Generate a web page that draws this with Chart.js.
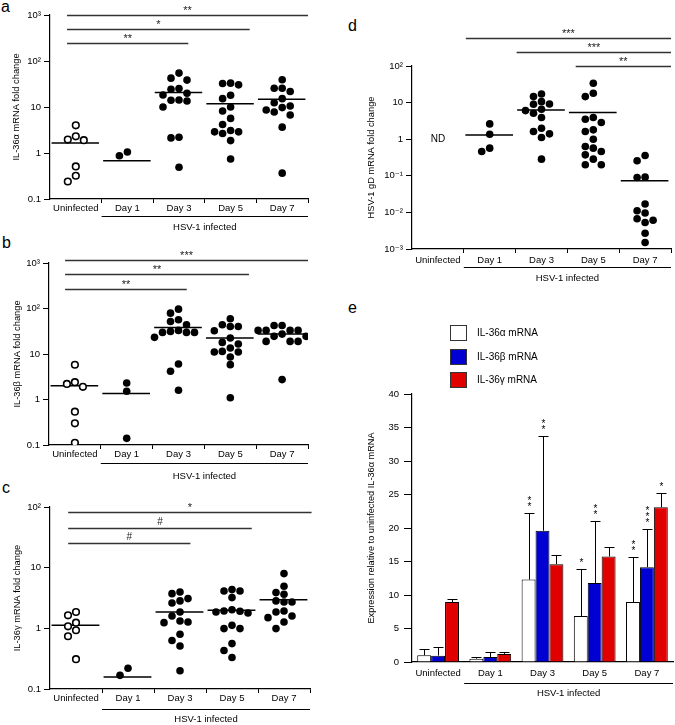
<!DOCTYPE html>
<html><head><meta charset="utf-8">
<script src="https://cdn.jsdelivr.net/npm/chart.js@4.4.1/dist/chart.umd.min.js"></script>
<style>
html,body{margin:0;padding:0;background:#fff;}
body{width:675px;height:725px;position:relative;overflow:hidden;font-family:"Liberation Sans",Arial,sans-serif;}
canvas{position:absolute;}
.lbl{position:absolute;font-size:16px;line-height:1;color:#000;font-family:"Liberation Sans",Arial,sans-serif;}
</style></head><body>
<div class="lbl" style="left:1px;top:-1px">a</div>
<div class="lbl" style="left:2px;top:235px">b</div>
<div class="lbl" style="left:2px;top:480px">c</div>
<div class="lbl" style="left:348px;top:18px">d</div>
<div class="lbl" style="left:348px;top:300px">e</div>
<canvas id="ca" width="330" height="235" style="left:0;top:0"></canvas>
<canvas id="cb" width="330" height="252" style="left:0;top:230px"></canvas>
<canvas id="cc" width="330" height="255" style="left:0;top:470px"></canvas>
<canvas id="cd" width="345" height="290" style="left:330px;top:0"></canvas>
<canvas id="ce" width="345" height="435" style="left:330px;top:290px"></canvas>
<script>
// ---------------- DATA ----------------
const cats = ['Uninfected', 'Day 1', 'Day 3', 'Day 5', 'Day 7'];
const groupLabel = 'HSV-1 infected';

// panel a : IL-36α fold change
const aVals = [
  [4.0, 2.3, 1.96, 1.9, 0.51, 0.32, 0.24],
  [1.05, 0.87],
  [54.6, 42.4, 38.4, 25.2, 24.4, 19.9, 18.3, 14.2, 14.0, 13.5, 10.0, 2.2, 2.13, 0.49],
  [33.0, 32.4, 30.3, 18.0, 15.2, 10.0, 8.2, 5.65, 4.17, 3.08, 2.88, 2.88, 2.65, 1.86, 0.74],
  [39.0, 25.6, 25.6, 21.7, 15.2, 12.4, 10.5, 9.7, 8.6, 7.8, 6.7, 3.65, 0.365]
];
const aMeans = [1.66, 0.68, 20.6, 11.8, 14.7];
const aTicks = [0.1, 1, 10, 100, 1000];
const aTickLabels = ['0.1', '1', '10', '10²', '10³'];
const aSigPairs = [[0, 4], [0, 3], [0, 2]];
const aSigMarks = ['**', '*', '**'];

// panel b : IL-36β fold change
const bVals = [
  [5.8, 2.4, 2.2, 1.9, 0.54, 0.30, 0.112],
  [2.3, 1.52, 0.14],
  [96.7, 79, 56.5, 51.9, 43.9, 33, 31.4, 29.8, 29.8, 29.8, 23.2, 6.04, 4.17, 1.6],
  [59.4, 43.9, 40.3, 40.3, 32.4, 22.4, 18, 16.6, 13.5, 11.4, 11.1, 11.1, 8.6, 5.84, 1.09],
  [42.4, 42.4, 33, 33, 33, 33, 27.4, 24.4, 24.4, 18.9, 18.9, 18.9, 2.74]
];
const bMeans = [2.0, 1.35, 38.4, 22.4, 27.4];
const bTicks = [0.1, 1, 10, 100, 1000];
const bTickLabels = ['0.1', '1', '10', '10²', '10³'];
const bSigPairs = [[0, 4], [0, 3], [0, 2]];
const bSigMarks = ['***', '**', '**'];

// panel c : IL-36γ fold change
const cVals = [
  [1.86, 1.64, 1.24, 1.08, 0.93, 0.74, 0.31],
  [0.22, 0.168],
  [3.98, 3.73, 3.09, 2.83, 2.62, 1.86, 1.6, 1.32, 1.27, 1.24, 0.80, 0.63, 0.51, 0.20],
  [4.35, 4.13, 4.13, 3.21, 2.03, 1.93, 1.91, 1.86, 1.79, 1.12, 0.99, 0.99, 0.56, 0.43, 0.33],
  [7.98, 4.93, 3.88, 3.64, 2.83, 2.72, 2.72, 1.93, 1.86, 1.6, 1.5, 1.27, 0.99]
];
const cMeans = [1.12, 0.157, 1.86, 1.98, 2.97];
const cTicks = [0.1, 1, 10, 100];
const cTickLabels = ['0.1', '1', '10', '10²'];
const cSigPairs = [[0, 4], [0, 3], [0, 2]];
const cSigMarks = ['*', '#', '#'];

// panel d : HSV-1 gD fold change
const dVals = [
  [],
  [2.62, 1.37, 0.57, 0.46],
  [17.2, 14.6, 10.6, 9.2, 9.0, 6.58, 6.05, 5.12, 3.9, 2.0, 1.62, 1.4, 1.11, 0.285],
  [33.7, 18, 14.6, 3.9, 3.51, 2.85, 1.8, 1.62, 1.0, 0.63, 0.57, 0.46, 0.374, 0.285, 0.2, 0.2],
  [0.359, 0.257, 0.092, 0.090, 0.0169, 0.0111, 0.0096, 0.0067, 0.0061, 0.0053, 0.0027, 0.0015]
];
const dMeans = [null, 1.31, 6.3, 5.34, 0.073];
const dTicks = [0.001, 0.01, 0.1, 1, 10, 100];
const dTickLabels = ['10⁻³', '10⁻²', '10⁻¹', '1', '10', '10²'];
const dSigPairs = [[1, 4], [2, 4], [3, 4]];
const dSigMarks = ['***', '***', '**'];
const dNotDetected = 'ND';

// panel e : expression relative to uninfected IL-36α
const eSeries = ['IL-36α mRNA', 'IL-36β mRNA', 'IL-36γ mRNA'];
const eMeans = [
  [1.0, 0.5, 12.3, 6.85, 8.95],
  [0.95, 0.75, 19.6, 11.8, 14.15],
  [8.95, 1.2, 14.6, 15.75, 23.1]
];
const eErrTop = [
  [1.95, 0.7, 22.2, 13.9, 15.6],
  [2.2, 1.45, 33.7, 21.05, 19.8],
  [9.45, 1.45, 16.0, 17.2, 25.2]
];
const eStars = [
  ['', '', '**', '*', '**'],
  ['', '', '**', '**', '***'],
  ['', '', '', '', '*']
];
const eYTicks = [0, 5, 10, 15, 20, 25, 30, 35, 40];

// ---------------- DRAWING ----------------
const FONT = '"Liberation Sans", Arial, "DejaVu Sans", sans-serif';
const eColors = ['#ffffff', '#0000d2', '#e00000'];

function swarm(chart) {
  const xs = chart.scales.x, ys = chart.scales.y;
  const catW = xs.getPixelForValue(1) - xs.getPixelForValue(0);
  const step = 8, D = 7.4;
  const order = [0, -1, 1, -2, 2, -3, 3, -4, 4];
  chart.data.datasets.forEach(ds => {
    if (!ds.swarm) return;
    const placedBy = {};
    ds.data = ds.data.map(p => {
      const placed = placedBy[p.g] = placedBy[p.g] || [];
      const py = ys.getPixelForValue(p.y);
      let kk = 0;
      for (const k of order) {
        const px = k * step;
        if (placed.every(q => Math.hypot(q.px - px, q.py - py) >= D)) { kk = k; break; }
      }
      placed.push({px: kk * step, py: py});
      return {x: p.g + kk * step / catW, y: p.y, g: p.g};
    });
  });
  chart.update('none');
}

function dotPanel(id, o) {
  const open = [], fill = [];
  o.vals.forEach((arr, g) => arr.forEach(v => ((g === 0 && o.openFirst) ? open : fill).push({x: g, y: v, g: g})));
  const meanPts = [];
  o.means.forEach((m, g) => {
    if (m == null) return;
    meanPts.push({x: g - 0.47, y: m}, {x: g + 0.45, y: m}, {x: g + 0.48, y: null});
  });
  const xTickVals = [];
  for (let i = 0; i <= 10; i++) xTickVals.push(-0.5 + i * 0.5);

  const annot = {
    id: 'annot_' + id,
    afterDraw(chart) {
      const {ctx, chartArea: a} = chart;
      const xs = chart.scales.x, ys = chart.scales.y;
      ctx.save();
      o.sigPairs.forEach((p, i) => {
        const y = Math.round(a.top + o.sigTop + i * o.sigGap) + 0.5;
        const x1 = xs.getPixelForValue(p[0] + o.sigFrom[i]);
        const x2 = xs.getPixelForValue(p[1] + o.sigTo[i]);
        ctx.strokeStyle = '#333'; ctx.lineWidth = 1.4;
        ctx.beginPath(); ctx.moveTo(x1, y); ctx.lineTo(x2, y); ctx.stroke();
        const mk = o.sigMarks[i];
        const isHash = mk.indexOf('#') >= 0;
        const fs = isHash ? 10 : 11;
        ctx.font = fs + 'px ' + FONT; ctx.fillStyle = '#222';
        ctx.textAlign = 'center'; ctx.textBaseline = 'alphabetic';
        const cy = y - 7.5;
        ctx.fillText(mk, (x1 + x2) / 2, cy + (isHash ? 0.36 : 0.57) * fs);
      });
      // infected group bracket
      const hx1 = xs.getPixelForValue(0.5), hx2 = a.right;
      const hy = Math.round(a.bottom + o.hsvLine) + 0.5;
      ctx.strokeStyle = '#000'; ctx.lineWidth = 1;
      ctx.beginPath(); ctx.moveTo(hx1, hy); ctx.lineTo(hx2, hy); ctx.stroke();
      ctx.font = '9.5px ' + FONT; ctx.fillStyle = '#000'; ctx.textAlign = 'center'; ctx.textBaseline = 'middle';
      ctx.fillText(groupLabel, (hx1 + hx2) / 2, a.bottom + o.hsvText);
      if (o.nd) {
        ctx.font = '10px ' + FONT;
        ctx.fillText(o.nd, xs.getPixelForValue(0), ys.getPixelForValue(1));
      }
      ctx.restore();
    }
  };

  const chart = new Chart(document.getElementById(id), {
    type: 'scatter',
    data: {datasets: [
      {data: open, swarm: true, backgroundColor: '#fff', borderColor: '#000', borderWidth: 1.6, pointRadius: 3.3, pointHoverRadius: 3.3},
      {data: fill, swarm: true, backgroundColor: '#000', borderColor: '#000', borderWidth: 0, pointRadius: 3.8, pointHoverRadius: 3.8},
      {data: meanPts, type: 'line', showLine: true, spanGaps: false, borderColor: '#000', borderWidth: 1.5, pointRadius: 0, pointHoverRadius: 0}
    ]},
    options: {
      responsive: false, animation: false, events: [],
      layout: {padding: o.pad},
      plugins: {legend: {display: false}, tooltip: {enabled: false}},
      scales: {
        x: {
          type: 'linear', min: -0.5, max: 4.5, bounds: 'data',
          afterBuildTicks: s => { s.ticks = xTickVals.map(v => ({value: v})); },
          afterFit: s => { s.height = 20; },
          ticks: {autoSkip: false, maxRotation: 0, minRotation: 0, padding: o.xPad, color: '#000',
                  font: {family: FONT, size: 9.5},
                  callback: v => (Number.isInteger(v) ? cats[v] : '')},
          grid: {drawOnChartArea: false, tickLength: 4, tickWidth: 1,
                 tickColor: c => (c.tick && !Number.isInteger(c.tick.value) && c.index > 0) ? '#000' : 'rgba(0,0,0,0)'},
          border: {display: true, color: '#000', width: 1.2}
        },
        y: {
          type: 'logarithmic', min: o.ticks[0], max: o.ticks[o.ticks.length - 1],
          afterBuildTicks: s => { s.ticks = o.ticks.map(v => ({value: v})); },
          afterFit: s => { s.width = o.yW; },
          ticks: {autoSkip: false, padding: 3, color: '#000', font: {family: FONT, size: 9.5},
                  callback: (v, i) => o.tickLabels[i]},
          grid: {drawOnChartArea: false, tickLength: 6, tickWidth: 1, tickColor: '#000'},
          border: {display: true, color: '#000', width: 1.2},
          title: {display: true, text: o.title, color: '#000', padding: 0, font: {family: FONT, size: 9.3}}
        }
      }
    },
    plugins: [annot]
  });
  swarm(chart);
  return chart;
}

dotPanel('ca', {
  vals: aVals, means: aMeans, ticks: aTicks, tickLabels: aTickLabels, openFirst: true,
  title: 'IL-36α mRNA fold change',
  sigPairs: aSigPairs, sigMarks: aSigMarks, sigTop: 0, sigGap: 14,
  sigFrom: [-0.17, -0.17, -0.17], sigTo: [0.5, 0.37, 0.18],
  pad: {left: 11, top: 15, right: 22, bottom: 16}, yW: 39, xPad: 0, hsvLine: 17, hsvText: 28
});
dotPanel('cb', {
  vals: bVals, means: bMeans, ticks: bTicks, tickLabels: bTickLabels, openFirst: true,
  title: 'IL-36β mRNA fold change',
  sigPairs: bSigPairs, sigMarks: bSigMarks, sigTop: -3.5, sigGap: 14.5,
  sigFrom: [-0.19, -0.19, -0.19], sigTo: [0.5, 0.36, 0.16],
  pad: {left: 12, top: 33, right: 22, bottom: 17}, yW: 37, xPad: 0, hsvLine: 18, hsvText: 31
});
dotPanel('cc', {
  vals: cVals, means: cMeans, ticks: cTicks, tickLabels: cTickLabels, openFirst: true,
  title: 'IL-36γ mRNA fold change',
  sigPairs: cSigPairs, sigMarks: cSigMarks, sigTop: 5, sigGap: 15.5,
  sigFrom: [-0.15, -0.15, -0.15], sigTo: [0.53, 0.38, 0.2],
  pad: {left: 12, top: 37, right: 20, bottom: 16}, yW: 38, xPad: 0, hsvLine: 20, hsvText: 30
});
dotPanel('cd', {
  vals: dVals, means: dMeans, ticks: dTicks, tickLabels: dTickLabels, openFirst: false, nd: dNotDetected,
  title: 'HSV-1 gD mRNA fold change',
  sigPairs: dSigPairs, sigMarks: dSigMarks, sigTop: -28, sigGap: 14,
  sigFrom: [-0.46, -0.48, -0.34], sigTo: [0.5, 0.5, 0.5],
  pad: {left: 36, top: 66, right: 4, bottom: 21}, yW: 46, xPad: 2, hsvLine: 18, hsvText: 29
});

// panel e
const ePlugin = {
  id: 'eAnnot',
  afterDatasetsDraw(chart) {
    const {ctx} = chart;
    const ys = chart.scales.y;
    ctx.save();
    ctx.strokeStyle = '#000'; ctx.lineWidth = 1; ctx.fillStyle = '#000';
    chart.data.datasets.forEach((ds, i) => {
      const meta = chart.getDatasetMeta(i);
      meta.data.forEach((bar, j) => {
        const x = Math.round(bar.x) + 0.5, yTop = Math.round(ys.getPixelForValue(eErrTop[i][j])) + 0.5, yb = bar.y;
        ctx.beginPath(); ctx.moveTo(x, yb); ctx.lineTo(x, yTop);
        ctx.moveTo(x - 5, yTop); ctx.lineTo(x + 5, yTop); ctx.stroke();
        const s = eStars[i][j];
        const fs = 10;
        ctx.font = fs + 'px ' + FONT; ctx.textAlign = 'center'; ctx.textBaseline = 'alphabetic';
        for (let k = 0; k < s.length; k++) {
          const cy = yTop - 9 - k * 6;
          ctx.fillText('*', x, cy + 0.57 * fs);
        }
      });
    });
    ctx.restore();
  },
  afterDraw(chart) {
    const {ctx, chartArea: a} = chart;
    const xs = chart.scales.x;
    ctx.save();
    // legend
    chart.data.datasets.forEach((ds, i) => {
      const bx = a.left + 38, by = Math.round(a.top - 69 + i * 23.5);
      ctx.fillStyle = ds.backgroundColor; ctx.fillRect(bx, by, 17, 16);
      ctx.strokeStyle = '#333'; ctx.lineWidth = 1; ctx.strokeRect(bx + 0.5, by + 0.5, 16, 15);
      ctx.fillStyle = '#000'; ctx.font = '10px ' + FONT; ctx.textAlign = 'left'; ctx.textBaseline = 'middle';
      ctx.fillText(ds.label, bx + 27, by + 8);
    });
    // infected bracket
    const hx1 = (xs.getPixelForValue(0) + xs.getPixelForValue(1)) / 2, hx2 = a.right;
    const hy = Math.round(a.bottom + 21) + 0.5;
    ctx.strokeStyle = '#000'; ctx.lineWidth = 1;
    ctx.beginPath(); ctx.moveTo(hx1, hy); ctx.lineTo(hx2, hy); ctx.stroke();
    ctx.font = '9.5px ' + FONT; ctx.fillStyle = '#000'; ctx.textAlign = 'center'; ctx.textBaseline = 'middle';
    ctx.fillText(groupLabel, (hx1 + hx2) / 2, a.bottom + 31.5);
    ctx.restore();
  }
};

new Chart(document.getElementById('ce'), {
  type: 'bar',
  data: {labels: cats, datasets: eSeries.map((s, i) => ({
    label: s, data: eMeans[i], backgroundColor: eColors[i], borderColor: '#000', borderWidth: 1,
    categoryPercentage: 0.8, barPercentage: 1.0
  }))},
  options: {
    responsive: false, animation: false, events: [],
    layout: {padding: {left: 36, top: 104, right: 2, bottom: 43}},
    plugins: {legend: {display: false}, tooltip: {enabled: false}},
    scales: {
      x: {
        afterFit: s => { s.height = 20; },
        ticks: {padding: 6, color: '#000', font: {family: FONT, size: 9.5}, maxRotation: 0, autoSkip: false},
        grid: {display: false, drawTicks: false, tickLength: 0},
        border: {display: true, color: '#000', width: 1.2}
      },
      y: {
        min: 0, max: 40,
        afterBuildTicks: s => { s.ticks = eYTicks.map(v => ({value: v})); },
        afterFit: s => { s.width = 46; },
        ticks: {padding: 5, color: '#000', font: {family: FONT, size: 9.5}},
        grid: {drawOnChartArea: false, tickLength: 8, tickWidth: 1, tickColor: '#000'},
        border: {display: true, color: '#000', width: 1.2},
        title: {display: true, text: 'Expression relative to uninfected IL-36α mRNA', color: '#000', padding: 0,
                font: {family: FONT, size: 9.2}}
      }
    }
  },
  plugins: [ePlugin]
});
</script>
</body></html>
